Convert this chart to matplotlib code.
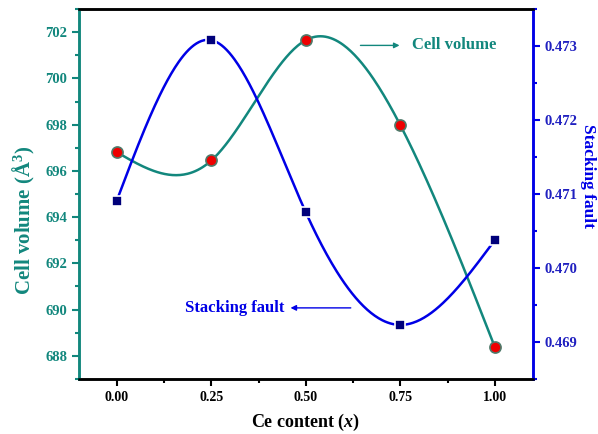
import numpy as np
import matplotlib
matplotlib.use("Agg")
import matplotlib.pyplot as plt
from matplotlib.ticker import MultipleLocator, FormatStrFormatter

plt.rcParams["font.family"] = ["Liberation Serif", "DejaVu Serif"]
plt.rcParams["font.weight"] = "bold"
plt.rcParams["mathtext.fontset"] = "custom"
plt.rcParams["mathtext.rm"] = "Liberation Serif:bold"
plt.rcParams["mathtext.it"] = "Liberation Serif:bold:italic"
plt.rcParams["mathtext.bf"] = "Liberation Serif:bold"

## data
ce = [0.00, 0.25, 0.50, 0.75, 1.00]
cell_volume = [696.81, 696.45, 701.66, 697.97, 688.36]
stacking_fault = [0.47091, 0.47308, 0.47075, 0.46923, 0.47038]
xticks = [0.00, 0.25, 0.50, 0.75, 1.00]

teal = "#12877d"
blue = "#0000e6"
navy = "#00007a"


def natural_spline(x, y, n=300):
    # natural cubic spline through the points, for the smooth line
    x = np.asarray(x, float)
    y = np.asarray(y, float)
    k = len(x)
    h = np.diff(x)
    A = np.zeros((k, k))
    b = np.zeros(k)
    A[0, 0] = A[-1, -1] = 1
    for i in range(1, k - 1):
        A[i, i - 1] = h[i - 1]
        A[i, i] = 2 * (h[i - 1] + h[i])
        A[i, i + 1] = h[i]
        b[i] = 3 * ((y[i + 1] - y[i]) / h[i] - (y[i] - y[i - 1]) / h[i - 1])
    c = np.linalg.solve(A, b)
    xs = np.linspace(x[0], x[-1], n)
    ys = np.empty_like(xs)
    for j, xv in enumerate(xs):
        i = min(np.searchsorted(x, xv, side="right") - 1, k - 2)
        d = (c[i + 1] - c[i]) / (3 * h[i])
        bb = (y[i + 1] - y[i]) / h[i] - h[i] * (2 * c[i] + c[i + 1]) / 3
        t = xv - x[i]
        ys[j] = y[i] + bb * t + c[i] * t ** 2 + d * t ** 3
    return xs, ys


fig = plt.figure(figsize=(5.98, 4.34), dpi=100)
ax = fig.add_axes([0.132, 0.127, 0.759, 0.852])
ax2 = ax.twinx()

# cell volume
xs, ys = natural_spline(ce, cell_volume)
ax.plot(xs, ys, color=teal, lw=1.8, zorder=2)
ax.plot(ce, cell_volume, "o", ms=8, mfc="#ee0000", mec="#4f7a6a", mew=1.2, zorder=3)

# stacking fault
xs2, ys2 = natural_spline(ce, stacking_fault)
ax2.plot(xs2, ys2, color=blue, lw=1.8, zorder=2)
ax2.plot(ce, stacking_fault, "s", ms=7.5, mfc=navy, mec="white", mew=1.2, zorder=3)

ax.set_xlim(-0.1, 1.1)
ax.set_ylim(687, 703)
ax2.set_ylim(0.4685, 0.4735)

ax.set_xticks(xticks)
ax.xaxis.set_major_formatter(FormatStrFormatter("%.2f"))
ax.xaxis.set_minor_locator(MultipleLocator(0.125))
ax.yaxis.set_major_locator(MultipleLocator(2))
ax.yaxis.set_minor_locator(MultipleLocator(1))
ax2.yaxis.set_major_locator(MultipleLocator(0.001))
ax2.yaxis.set_minor_locator(MultipleLocator(0.0005))
ax2.yaxis.set_major_formatter(FormatStrFormatter("%.3f"))

# spines and ticks
for a in (ax, ax2):
    for s in a.spines.values():
        s.set_linewidth(1.8)
ax.spines["left"].set_color(teal)
ax2.spines["left"].set_color(teal)
ax2.spines["right"].set_color(blue)
ax.spines["right"].set_color(blue)

ax.tick_params(axis="x", which="both", direction="out", width=1.5, labelsize=10, colors="black")
ax.tick_params(axis="x", which="major", length=5)
ax.tick_params(axis="x", which="minor", length=3)
ax.tick_params(axis="y", which="both", direction="out", width=1.5, colors=teal, labelsize=10.5)
ax.tick_params(axis="y", which="major", length=5)
ax.tick_params(axis="y", which="minor", length=3)
ax2.tick_params(axis="y", which="both", direction="out", width=1.5, colors=blue, labelsize=10.5)
ax2.tick_params(axis="y", which="major", length=5)
ax2.tick_params(axis="y", which="minor", length=3)
for lab in ax2.get_yticklabels():
    lab.set_color("#2020c0")

ax.set_xlabel(r"Ce content ($x$)", fontsize=13, fontweight="bold", labelpad=6)
ax.set_ylabel(r"Cell volume (Å$^{3}$)", fontsize=15, fontweight="bold", color=teal)
ax.yaxis.set_label_coords(-0.092, 0.43)
ax2.set_ylabel("Stacking fault", fontsize=12.5, fontweight="bold", color=blue, rotation=270)
ax2.yaxis.set_label_coords(1.14, 0.55)

# annotations
ax.annotate("Cell volume", xy=(0.75, 701.43), xytext=(0.78, 701.43),
            color=teal, fontsize=12, fontweight="bold", va="center", ha="left")
ax.annotate("", xy=(0.755, 701.43), xytext=(0.637, 701.43),
            arrowprops=dict(arrowstyle="-|>", color=teal, lw=1.0, mutation_scale=8))
ax2.annotate("Stacking fault", xy=(0.45, 0.46946), xytext=(0.443, 0.46946),
             color=blue, fontsize=12, fontweight="bold", va="center", ha="right")
ax2.annotate("", xy=(0.452, 0.46946), xytext=(0.626, 0.46946),
             arrowprops=dict(arrowstyle="-|>", color=blue, lw=1.0, mutation_scale=8))

plt.savefig("out.png", dpi=100)
plt.close(fig)
